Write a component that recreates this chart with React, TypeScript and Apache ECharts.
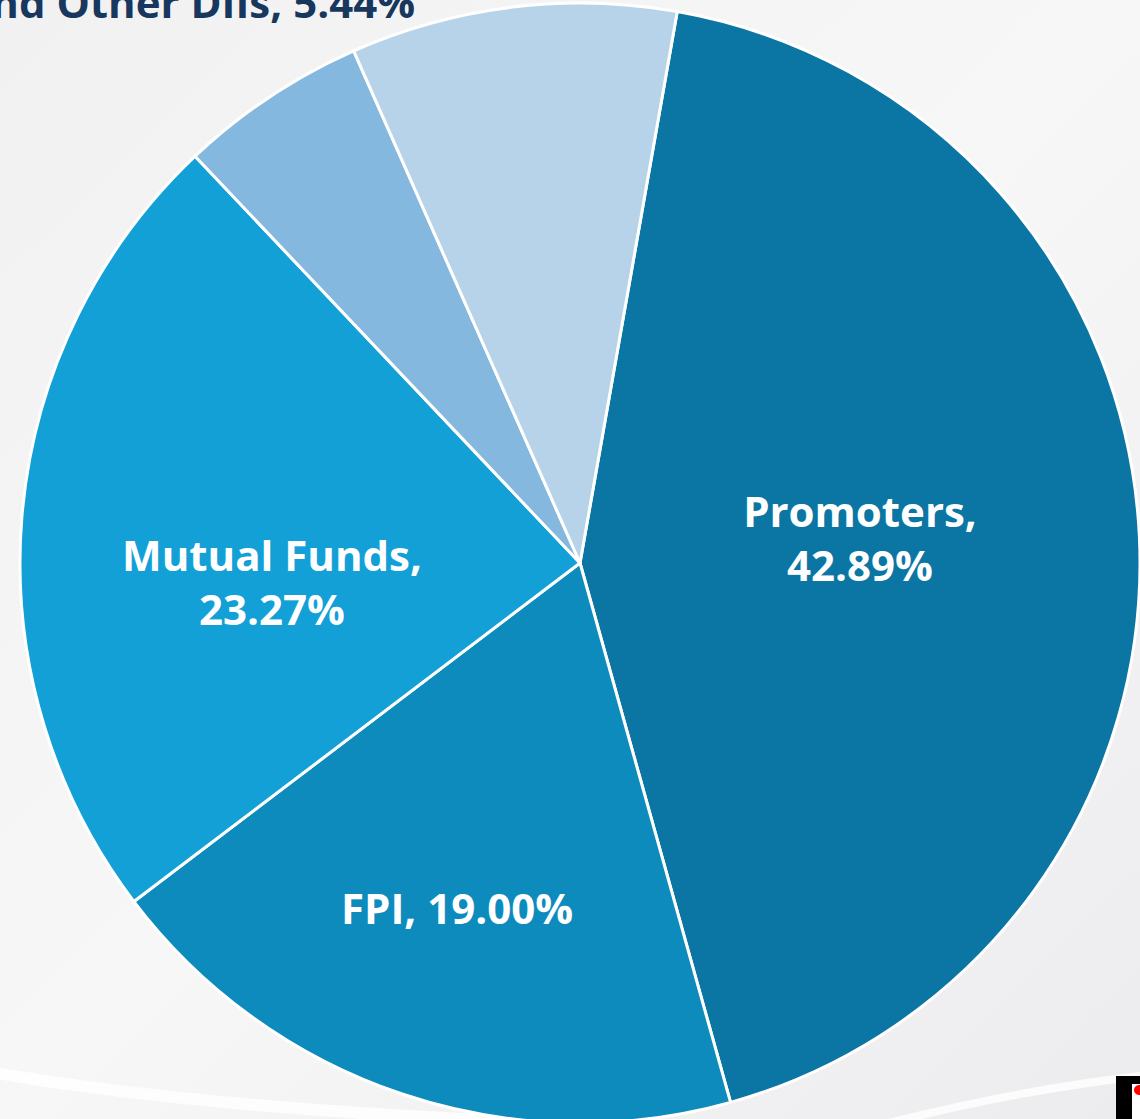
import React, { useEffect, useRef } from "react";
import * as echarts from "echarts";

const categories = ["Promoters", "FPI", "Mutual Funds", "Insurance Companies and Other DIIs", "Others"];
const shares = [42.89, 19.0, 23.27, 5.44, 9.4];
const colors = ["#0b76a3", "#0e8bbd", "#12a0d6", "#85b8df", "#b7d3ea"];

export default function App() {
  const ref = useRef<HTMLDivElement>(null);
  useEffect(() => {
    if (!ref.current) return;
    const chart = echarts.init(ref.current, null, { renderer: "svg" });
    const labelSpots: Record<number, any> = {
      0: { x: 860, y: 537, align: "center" },
      1: { x: 457, y: 907, align: "center" },
      2: { x: 272, y: 581, align: "center" },
      3: { x: 415, y: 1, align: "right" },
    };
    chart.setOption({
      animation: false,
      backgroundColor: {
        type: "linear", x: 0, y: 0, x2: 1, y2: 1,
        colorStops: [
          { offset: 0, color: "#f1f1f2" },
          { offset: 0.5, color: "#f7f7f8" },
          { offset: 1, color: "#ececee" },
        ],
      },
      graphic: [
        {
          type: "bezierCurve", silent: true, z: -1,
          shape: { x1: -10, y1: 1072, cpx1: 150, cpy1: 1100, cpx2: 350, cpy2: 1116, x2: 600, y2: 1125 },
          style: { stroke: "#ffffff", lineWidth: 12, fill: null, opacity: 0.8 },
        },
        {
          type: "bezierCurve", silent: true, z: -1,
          shape: { x1: 880, y1: 1125, cpx1: 980, cpy1: 1100, cpx2: 1060, cpy2: 1085, x2: 1150, y2: 1075 },
          style: { stroke: "#ffffff", lineWidth: 8, fill: null, opacity: 0.8 },
        },
        { type: "rect", shape: { x: 1116, y: 1076, width: 30, height: 50 }, style: { fill: "#000000" }, z: 10 },
        { type: "rect", shape: { x: 1132, y: 1084, width: 10, height: 40 }, style: { fill: "#ffffff" }, z: 11 },
        { type: "circle", shape: { cx: 1139, cy: 1090, r: 5 }, style: { fill: "#ff0000" }, z: 12 },
      ],
      series: [
        {
          type: "pie",
          center: [580, 563],
          radius: 560,
          startAngle: 80,
          clockwise: true,
          avoidLabelOverlap: false,
          itemStyle: { borderColor: "#ffffff", borderWidth: 3 },
          label: {
            show: true,
            position: "inside",
            formatter: (p: any) => `${p.name},\n${p.value.toFixed(2)}%`,
            color: "#ffffff",
            fontFamily: "Open Sans",
            fontWeight: 700,
            fontSize: 42,
            lineHeight: 54,
            align: "center",
          },
          labelLine: { show: false },
          labelLayout: (params: any) => {
            const s = labelSpots[params.dataIndex];
            if (!s) return {};
            return { x: s.x, y: s.y, align: s.align, verticalAlign: "middle" };
          },
          data: categories.map((name, i) => {
            const d: any = { name, value: shares[i], itemStyle: { color: colors[i] } };
            if (i === 1) d.label = { formatter: (p: any) => `${p.name}, ${p.value.toFixed(2)}%` };
            if (i === 3)
              d.label = {
                position: "outside",
                color: "#17375e",
                formatter: (p: any) => `${p.name}, ${p.value.toFixed(2)}%`,
              };
            if (i === 4) d.label = { show: false };
            return d;
          }),
        },
      ],
    });
    return () => chart.dispose();
  }, []);
  return (
    <div
      ref={ref}
      style={{ position: "absolute", left: 0, top: 0, width: 1140, height: 1119 }}
    />
  );
}
